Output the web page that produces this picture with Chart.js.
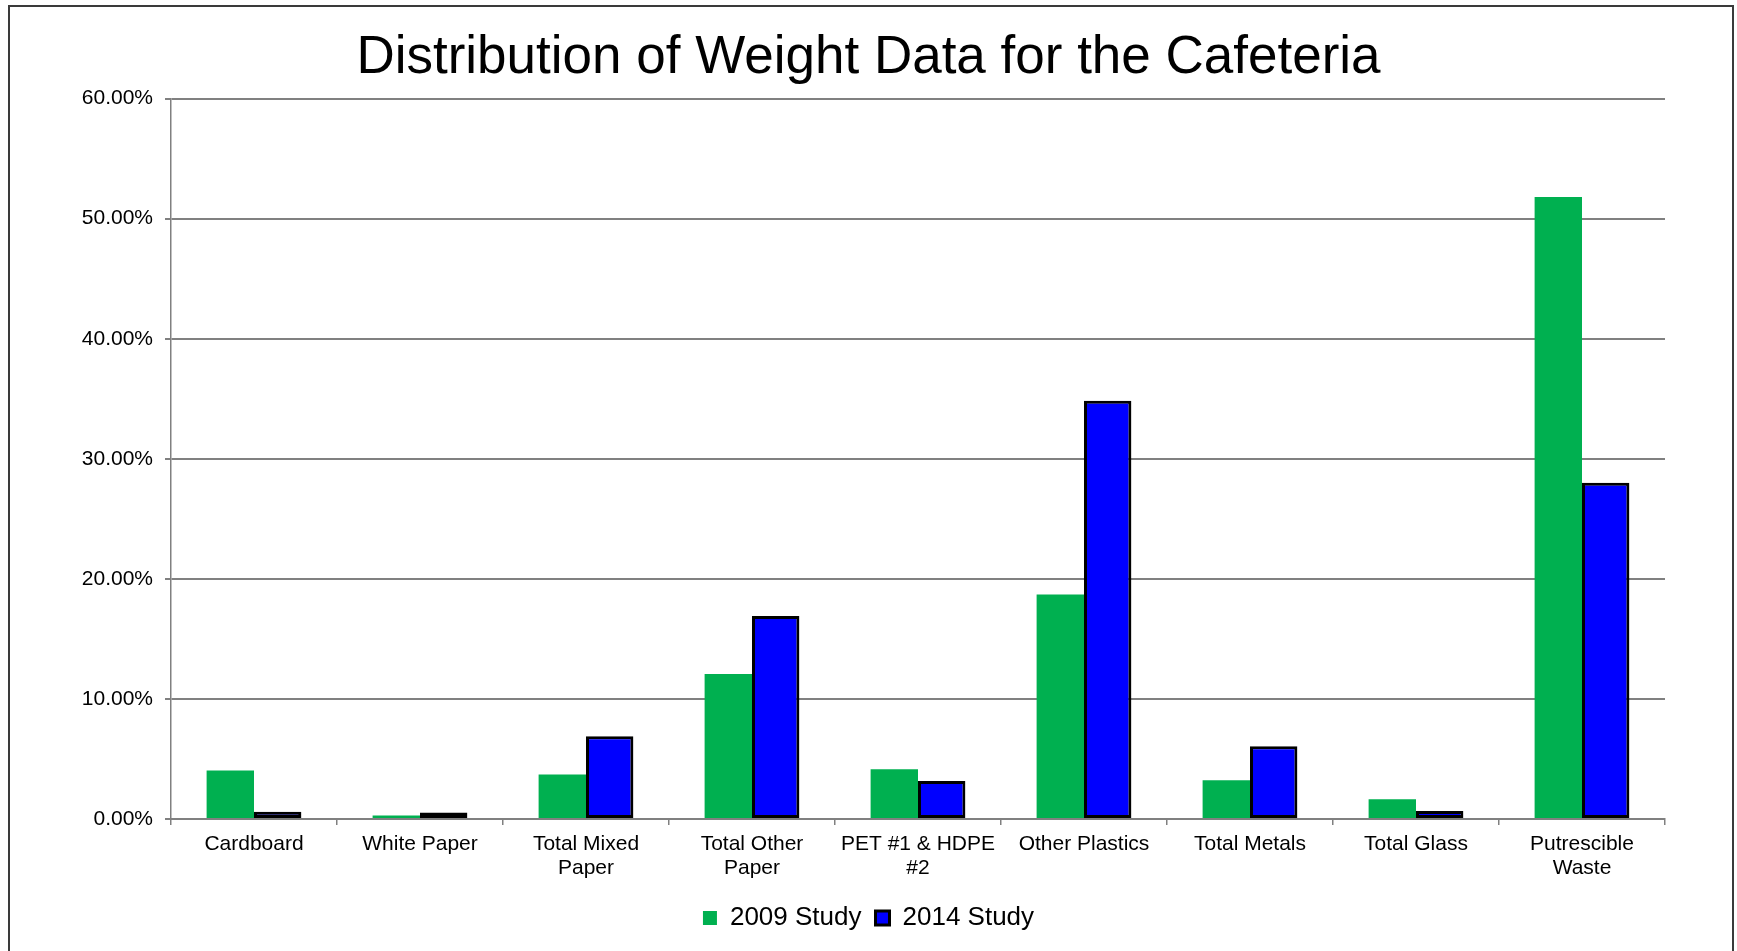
<!DOCTYPE html>
<html>
<head>
<meta charset="utf-8">
<script src="https://cdn.jsdelivr.net/npm/chart.js@4/dist/chart.umd.min.js"></script>
<style>
  html, body { margin: 0; padding: 0; background: #fff; overflow: hidden; }
  #moldura { position: absolute; left: 8px; top: 5px; width: 1726px; height: 960px; border: 2px solid #3a3a3a; box-sizing: border-box; }
  #caixa { position: absolute; left: 0; top: 0; width: 1737px; height: 951px; }
</style>
</head>
<body>
<div id="moldura"></div>
<div id="caixa"><canvas id="graficoCafeteria"></canvas></div>
<script>
const categorias = [
    "Cardboard",
    "White Paper",
    ["Total Mixed", "Paper"],
    ["Total Other", "Paper"],
    ["PET #1 & HDPE", "#2"],
    "Other Plastics",
    "Total Metals",
    "Total Glass",
    ["Putrescible", "Waste"]
];
const estudo2009 = [4.03, 0.30, 3.70, 12.08, 4.14, 18.70, 3.22, 1.64, 51.80];
const estudo2014 = [0.60, 0.55, 6.90, 16.90, 3.17, 34.83, 6.06, 0.67, 28.00];
const marcasY = [0, 10, 20, 30, 40, 50, 60];

const fonte = "'Liberation Sans', Arial, sans-serif";
const cinza = "#808080";

const graficoCafeteria = new Chart(document.getElementById("graficoCafeteria"), {
    type: 'bar',
    data: {
        labels: categorias,
        datasets: [{
            label: '2009 Study',
            data: estudo2009,
            backgroundColor: '#00B050',
            borderWidth: 0,
            categoryPercentage: 0.571,
            barPercentage: 1
        }, {
            label: '2014 Study',
            data: estudo2014,
            backgroundColor: '#0000FF',
            borderColor: '#000000',
            borderWidth: 3,
            borderSkipped: false,
            categoryPercentage: 0.571,
            barPercentage: 1
        }]
    },
    options: {
        responsive: true,
        maintainAspectRatio: false,
        animation: false,
        layout: { padding: { left: 0, right: 0, bottom: 10, top: 0 } },
        plugins: {
            title: {
                display: true,
                text: 'Distribution of Weight Data for the Cafeteria',
                color: '#000',
                font: { family: fonte, size: 53, weight: 'normal', lineHeight: 1.2 },
                padding: { top: 27, bottom: 8 }
            },
            legend: {
                position: 'bottom',
                labels: {
                    color: '#000',
                    font: { family: fonte, size: 26 },
                    boxWidth: 14,
                    boxHeight: 14,
                    padding: 14
                }
            },
            tooltip: { enabled: false }
        },
        scales: {
            x: {
                grid: { drawOnChartArea: false, drawTicks: true, tickLength: 6, color: cinza, lineWidth: 1.5 },
                border: { color: cinza, width: 2 },
                ticks: {
                    color: '#000',
                    font: { family: fonte, size: 21, lineHeight: 1.15 },
                    padding: 7,
                    maxRotation: 0,
                    autoSkip: false
                },
                afterFit: (escala) => { escala.height = 72; }
            },
            y: {
                min: 0,
                max: 60,
                afterBuildTicks: (escala) => { escala.ticks = marcasY.map(v => ({ value: v })); },
                grid: { color: cinza, lineWidth: 2, tickLength: 6, drawTicks: true },
                border: { color: cinza, width: 1.5 },
                ticks: {
                    color: '#000',
                    font: { family: fonte, size: 21 },
                    padding: 12,
                    callback: (v) => v.toFixed(2) + '%'
                },
                afterFit: (escala) => { escala.width = 171; }
            },
            margemDireita: {
                position: 'right',
                min: 0,
                max: 60,
                grid: { drawOnChartArea: false, drawTicks: false },
                border: { display: false },
                ticks: { display: false },
                afterFit: (escala) => { escala.width = 72; }
            }
        }
    }
});
</script>
</body>
</html>
